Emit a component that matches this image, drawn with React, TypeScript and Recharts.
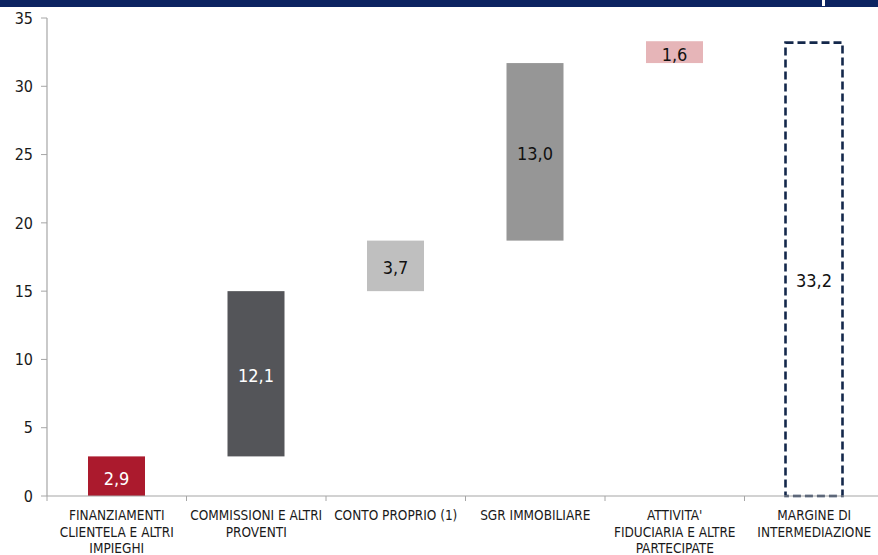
import React from "react";
import { BarChart, Bar, XAxis, YAxis, Cell, LabelList } from "recharts";

// Contribution of each business line to the net banking margin (millions)
const categoryLines: string[][] = [
  ["FINANZIAMENTI", "CLIENTELA E ALTRI", "IMPIEGHI"],
  ["COMMISSIONI E ALTRI", "PROVENTI"],
  ["CONTO PROPRIO (1)"],
  ["SGR IMMOBILIARE"],
  ["ATTIVITA'", "FIDUCIARIA E ALTRE", "PARTECIPATE"],
  ["MARGINE DI", "INTERMEDIAZIONE"],
];
const values = [2.9, 12.1, 3.7, 13.0, 1.6, 33.2];
const isTotal = [false, false, false, false, false, true];
const barColors = ["#ab1a2d", "#545559", "#bfbfbf", "#969696", "#e6b5b8", "#ffffff"];
const labelColors = ["#ffffff", "#ffffff", "#111111", "#111111", "#111111", "#111111"];
const yTicks = [0, 5, 10, 15, 20, 25, 30, 35];

// Floating bars: each step starts where the previous ones ended, the total starts at zero
const bases: number[] = [];
values.reduce((acc, v, i) => {
  bases.push(isTotal[i] ? 0 : acc);
  return isTotal[i] ? acc : acc + v;
}, 0);

const data = values.map((v, i) => ({
  name: categoryLines[i].join(" "),
  base: bases[i],
  value: v,
}));

const CHART_W = 884;
const CHART_H = 555;
const Y_AXIS_W = 47;
const STEP = (CHART_W - Y_AXIS_W) / values.length;
const FONT = "'DejaVu Sans Condensed', 'DejaVu Sans', sans-serif";
const AXIS_GREY = "#a6a6a6";
const NAVY = "#0c2461";

const fmt = (v: number) => v.toFixed(1).replace(".", ",");

function CategoryTick(props: any) {
  const { x, y, index } = props;
  const lines = categoryLines[index] || [];
  const bx = x - STEP / 2;
  return (
    <g>
      <line x1={bx} x2={bx} y1={y} y2={y + 5} stroke={AXIS_GREY} strokeWidth={1} />
      {lines.map((ln, i) => (
        <text
          key={i}
          x={x}
          y={y + 24 + i * 16.5}
          textAnchor="middle"
          fontFamily={FONT}
          fontSize={13.5}
          fill="#1a1a1a"
        >
          {ln}
        </text>
      ))}
    </g>
  );
}

function ValueLabel(props: any) {
  const { x, y, width, height, index } = props;
  // the total's label sits a little below the middle of its box
  const shift = isTotal[index] ? 11 : 2;
  return (
    <text
      x={x + width / 2}
      y={y + height / 2 + shift}
      textAnchor="middle"
      dominantBaseline="central"
      fontFamily={FONT}
      fontSize={18}
      fill={labelColors[index]}
    >
      {fmt(values[index])}
    </text>
  );
}

function StepBar(props: any) {
  const { x, y, width, height, index } = props;
  if (isTotal[index]) {
    return (
      <rect
        x={x}
        y={y}
        width={width}
        height={height}
        fill="#ffffff"
        stroke="#14284b"
        strokeWidth={2.6}
        strokeDasharray="8 4"
      />
    );
  }
  return <rect x={x} y={y} width={width} height={height} fill={barColors[index]} />;
}

export default function App() {
  return (
    <div
      style={{
        position: "absolute",
        left: 0,
        top: 0,
        width: 878,
        height: 555,
        overflow: "hidden",
        background: "#ffffff",
      }}
    >
      <BarChart
        width={CHART_W}
        height={CHART_H}
        data={data}
        margin={{ top: 18, right: 0, bottom: 0, left: 0 }}
        barSize={57}
      >
        <XAxis
          dataKey="name"
          height={59}
          interval={0}
          tickLine={false}
          tickSize={0}
          tickMargin={0}
          axisLine={{ stroke: AXIS_GREY, strokeWidth: 1.2 }}
          tick={<CategoryTick />}
        />
        <YAxis
          width={Y_AXIS_W}
          domain={[0, 35]}
          ticks={yTicks}
          interval={0}
          tickSize={6}
          tickMargin={8}
          axisLine={{ stroke: AXIS_GREY, strokeWidth: 1.2 }}
          tickLine={{ stroke: AXIS_GREY }}
          tick={{ fontFamily: FONT, fontSize: 16, fill: "#1a1a1a" }}
        />
        <Bar dataKey="base" stackId="w" fill="transparent" isAnimationActive={false} />
        <Bar dataKey="value" stackId="w" isAnimationActive={false} shape={<StepBar />}>
          {data.map((_, i) => (
            <Cell key={i} fill={barColors[i]} />
          ))}
          <LabelList dataKey="value" content={<ValueLabel />} />
        </Bar>
      </BarChart>
      <div
        style={{
          position: "absolute",
          left: 0,
          top: 0,
          width: 878,
          height: 7,
          background: NAVY,
        }}
      />
      <div
        style={{
          position: "absolute",
          left: 822,
          top: 0,
          width: 3,
          height: 6,
          background: "#ffffff",
        }}
      />
    </div>
  );
}
